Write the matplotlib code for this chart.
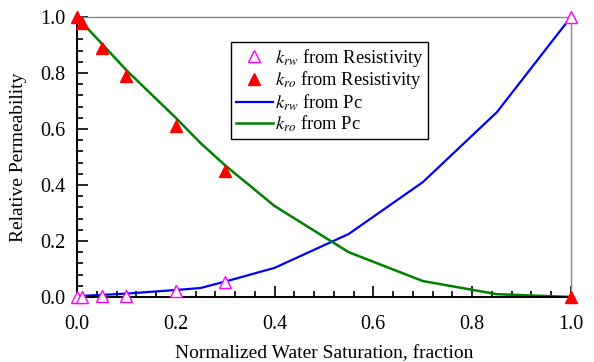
import numpy as np
import matplotlib
matplotlib.use('Agg')
import matplotlib.pyplot as plt
from matplotlib.ticker import MultipleLocator

plt.rcParams['font.family'] = 'Liberation Serif'
plt.rcParams['mathtext.fontset'] = 'stix'

# measured points (from resistivity)
sw_res = [0.0, 0.01, 0.05, 0.1, 0.2, 0.3, 1.0]
krw_res = [0.0, 0.0, 0.002, 0.005, 0.02, 0.055, 1.0]
kro_res = [1.0, 0.98, 0.89, 0.79, 0.61, 0.45, 0.0]

# curves from capillary pressure
sw_pc = [0.0, 0.1, 0.2, 0.25, 0.3, 0.4, 0.55, 0.7, 0.85, 1.0]
krw_pc = [0.003, 0.012, 0.025, 0.032, 0.055, 0.104, 0.225, 0.41, 0.66, 1.0]
kro_pc = [1.0, 0.81, 0.64, 0.55, 0.47, 0.325, 0.16, 0.057, 0.01, 0.0]

fig = plt.figure(figsize=(5.94, 3.62), dpi=100)
ax = fig.add_axes([0.1296, 0.1796, 0.8316, 0.7734])

ax.plot(sw_res, krw_res, linestyle='none', marker='^', markersize=9,
        markerfacecolor='white', markeredgecolor='#ff00ff', markeredgewidth=1.0,
        clip_on=False, zorder=4, label=r'$k_{rw}$ from Resistivity')
ax.plot(sw_res, kro_res, linestyle='none', marker='^', markersize=9,
        color='red', clip_on=False, zorder=4, label=r'$k_{ro}$ from Resistivity')
ax.plot(sw_pc, krw_pc, color='#0000ff', lw=1.6, clip_on=False, label=r'$k_{rw}$ from Pc')
ax.plot(sw_pc, kro_pc, color='#008000', lw=1.8, clip_on=False, label=r'$k_{ro}$ from Pc')

ax.set_xlim(0, 1)
ax.set_ylim(0, 1)
ax.xaxis.set_major_locator(MultipleLocator(0.2))
ax.xaxis.set_minor_locator(MultipleLocator(0.04))
ax.yaxis.set_major_locator(MultipleLocator(0.2))
ax.yaxis.set_minor_locator(MultipleLocator(0.04))
ax.xaxis.set_major_formatter(plt.FormatStrFormatter('%.1f'))
ax.yaxis.set_major_formatter(plt.FormatStrFormatter('%.1f'))
ax.tick_params(which='both', direction='in', top=False, right=False, labelsize=14.5, width=1.2)
ax.tick_params(axis='x', which='major', length=8, pad=13)
ax.tick_params(axis='y', which='major', length=8, pad=8)
ax.tick_params(which='minor', length=4.5)

for s in ['top', 'right']:
    ax.spines[s].set_color('#888888')
    ax.spines[s].set_linewidth(1.0)
for s in ['left', 'bottom']:
    ax.spines[s].set_color('black')
    ax.spines[s].set_linewidth(1.4)

ax.set_xlabel('Normalized Water Saturation, fraction', fontsize=14, labelpad=8)
ax.set_ylabel('Relative Permeability', fontsize=14, labelpad=10)

leg = ax.legend(loc='upper left', bbox_to_anchor=(0.312, 0.911), fontsize=13.3,
                frameon=True, fancybox=False, edgecolor='black', framealpha=1,
                handlelength=2.0, handletextpad=0.1, labelspacing=0.05,
                borderpad=0.25, borderaxespad=0)
leg.get_frame().set_linewidth(1.0)

fig.savefig('out.png', dpi=100)
